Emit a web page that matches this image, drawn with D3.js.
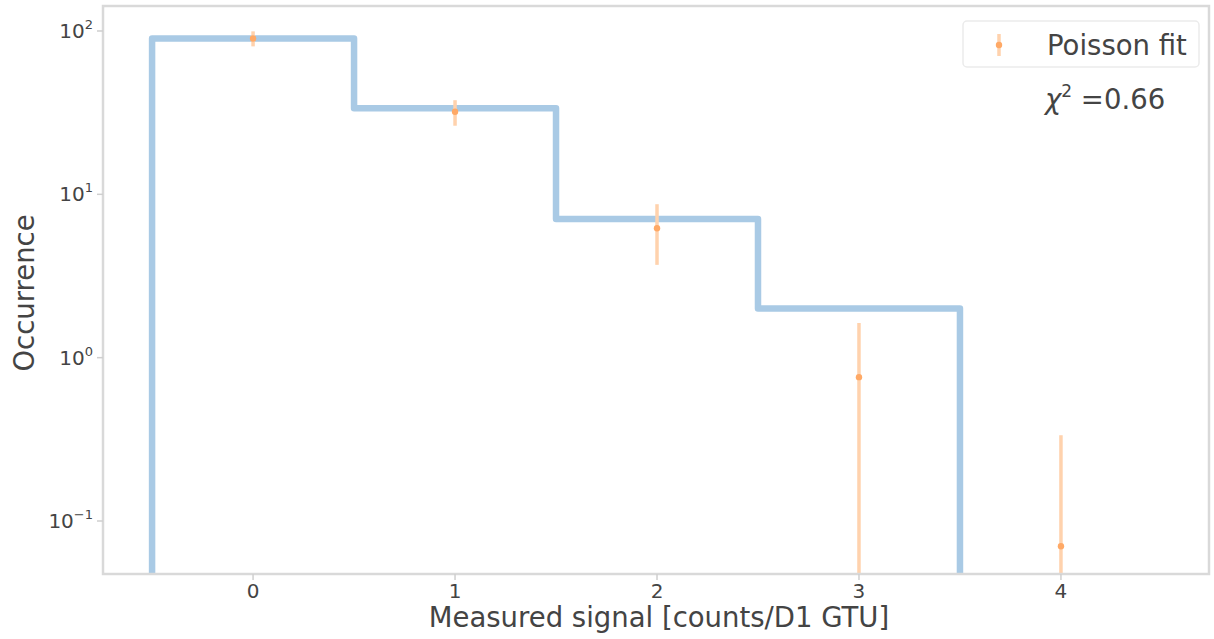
<!DOCTYPE html>
<html>
<head>
<meta charset="utf-8">
<script src="https://cdn.jsdelivr.net/npm/d3@7"></script>
<style>
  html, body { margin: 0; padding: 0; background: #fff; }
  svg { display: block; font-family: "DejaVu Sans", sans-serif; }
</style>
</head>
<body>
<svg id="chart" width="1214" height="639"></svg>
<script>
// ---- data ----
const binEdges = [-0.5, 0.5, 1.5, 2.5, 3.5];
const binCounts = [90, 33.6, 7.05, 2.0];
const fitX = [0, 1, 2, 3, 4];
const fitY = [90, 32, 6.2, 0.76, 0.07];
const fitErr = [9.5, 5.7, 2.5, 0.87, 0.265];
const xTicks = [0, 1, 2, 3, 4];
const yTickExp = [-1, 0, 1, 2];
const xLabel = "Measured signal [counts/D1 GTU]";
const yLabel = "Occurrence";
const legendLabel = "Poisson fit";
const chiValue = "=0.66";

// ---- layout ----
const W = 1214, H = 639;
const m = { left: 103, right: 1209, top: 6, bottom: 574 };
const svg = d3.select("#chart");

const x = d3.scaleLinear().domain([-0.743, 4.733]).range([m.left, m.right]);
const y = d3.scaleLog().domain([Math.pow(10, -1.3245), Math.pow(10, 2.153)]).range([m.bottom, m.top]);

svg.append("defs").append("clipPath").attr("id", "clip")
  .append("rect").attr("x", m.left).attr("y", m.top)
  .attr("width", m.right - m.left).attr("height", m.bottom - m.top);

const textCol = "#444";
const spineCol = "#d9d9d9";

// histogram step line
const pts = [];
pts.push([x(binEdges[0]), m.bottom + 20]);
binCounts.forEach((c, i) => {
  pts.push([x(binEdges[i]), y(c)]);
  pts.push([x(binEdges[i + 1]), y(c)]);
});
pts.push([x(binEdges[binEdges.length - 1]), m.bottom + 20]);

svg.append("g").attr("clip-path", "url(#clip)")
  .append("path")
  .attr("d", d3.line()(pts))
  .attr("fill", "none")
  .attr("stroke", "#a9cae5")
  .attr("stroke-width", 6.5)
  .attr("stroke-linejoin", "round");

// error bars
const gErr = svg.append("g").attr("clip-path", "url(#clip)");
fitX.forEach((xv, i) => {
  const lo = fitY[i] - fitErr[i];
  const hi = fitY[i] + fitErr[i];
  const yLo = lo > 0 ? y(lo) : m.bottom + 20;
  gErr.append("line")
    .attr("x1", x(xv)).attr("x2", x(xv))
    .attr("y1", yLo).attr("y2", y(hi))
    .attr("stroke", "#ffd2ad").attr("stroke-width", 3.5);
  gErr.append("circle")
    .attr("cx", x(xv)).attr("cy", y(fitY[i])).attr("r", 3.2)
    .attr("fill", "#ffa966");
});

// spines
svg.append("rect")
  .attr("x", m.left).attr("y", m.top)
  .attr("width", m.right - m.left).attr("height", m.bottom - m.top)
  .attr("fill", "none").attr("stroke", spineCol).attr("stroke-width", 2.5);

// x ticks
const gx = svg.append("g");
xTicks.forEach(t => {
  gx.append("line").attr("x1", x(t)).attr("x2", x(t))
    .attr("y1", m.bottom).attr("y2", m.bottom + 6)
    .attr("stroke", "#cfcfcf").attr("stroke-width", 1.5);
  gx.append("text").attr("x", x(t)).attr("y", m.bottom + 24)
    .attr("text-anchor", "middle").attr("font-size", 20)
    .attr("fill", textCol).text(t);
});

// y ticks
const gy = svg.append("g");
yTickExp.forEach(e => {
  const yy = y(Math.pow(10, e));
  gy.append("line").attr("x1", m.left - 6).attr("x2", m.left)
    .attr("y1", yy).attr("y2", yy)
    .attr("stroke", "#cfcfcf").attr("stroke-width", 1.5);
  const t = gy.append("text").attr("x", m.left - 10).attr("y", yy + 7)
    .attr("text-anchor", "end").attr("font-size", 20).attr("fill", textCol);
  t.append("tspan").text("10");
  t.append("tspan").attr("dy", -9).attr("font-size", 13).text(e < 0 ? "\u2212" + Math.abs(e) : String(e));
});

// axis labels
svg.append("text").attr("x", (m.left + m.right) / 2 + 3).attr("y", 627)
  .attr("text-anchor", "middle").attr("font-size", 27.5).attr("fill", textCol)
  .text(xLabel);
svg.append("text")
  .attr("transform", `translate(34, ${(m.top + m.bottom) / 2 + 3}) rotate(-90)`)
  .attr("text-anchor", "middle").attr("font-size", 27.5).attr("fill", textCol)
  .text(yLabel);

// legend
const lg = svg.append("g");
lg.append("rect").attr("x", 963).attr("y", 21).attr("width", 236).attr("height", 46)
  .attr("rx", 4).attr("fill", "#fff").attr("stroke", "#ebebeb").attr("stroke-width", 1.5);
lg.append("line").attr("x1", 999).attr("x2", 999).attr("y1", 34).attr("y2", 56)
  .attr("stroke", "#ffd2ad").attr("stroke-width", 3.5);
lg.append("circle").attr("cx", 999).attr("cy", 45).attr("r", 3.2).attr("fill", "#ffa966");
lg.append("text").attr("x", 1047).attr("y", 55).attr("font-size", 27.5)
  .attr("fill", textCol).text(legendLabel);

// chi-square annotation
const chi = svg.append("text").attr("x", 1045).attr("y", 109).attr("font-size", 27.5).attr("fill", textCol);
chi.append("tspan").attr("font-style", "italic").text("\u03c7");
chi.append("tspan").attr("dy", -12).attr("font-size", 17).text("2");
chi.append("tspan").attr("dy", 12).text(" " + chiValue);
</script>
</body>
</html>
